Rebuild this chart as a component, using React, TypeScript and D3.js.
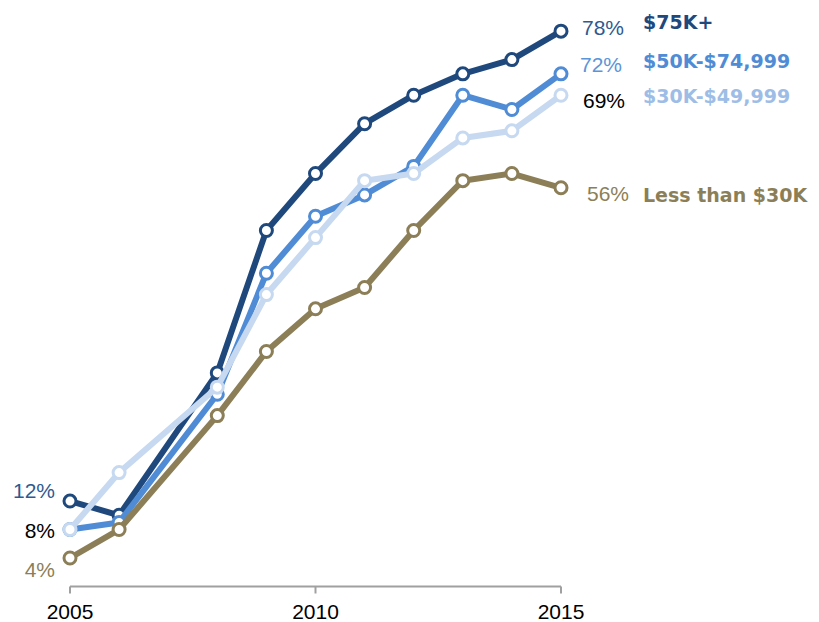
import * as d3 from 'd3';

// survey years (no 2007 point)
const years = [2005, 2006, 2008, 2009, 2010, 2011, 2012, 2013, 2014, 2015];

// share by household income, %
const over75k = [12, 10, 30, 50, 58, 65, 69, 72, 74, 78];
const from50to75k = [8, 9, 27, 44, 52, 55, 59, 69, 67, 72];
const from30to50k = [8, 16, 28, 41, 49, 57, 58, 63, 64, 69];
const under30k = [4, 8, 24, 33, 39, 42, 50, 57, 58, 56];

const seriesNames = ['$75K+', '$50K-$74,999', 'Less than $30K', '$30K-$49,999'];
const seriesValues = [over75k, from50to75k, under30k, from30to50k];
const seriesColors = ['#1f497d', '#4f8cd5', '#8c7f57', '#c6d9f1'];
const nameColors = ['#1f497d', '#4f8cd5', '#8c7f57', '#9dbde6'];
const endPctColors = ['#2e5a91', '#5b95d8', '#8c7f57', '#000000'];

const tickYears = [2005, 2010, 2015];

// label tweaks (baseline offsets from the point)
const endPctDy = [4, -2, 13, 13];
const endPctDx = [21, 19, 26, 22];
const endNameDy = [-2, -6, 14, 8];
// left side: 12%, 8%, 4%
const startLabels = [
    { text: '12%', series: 0, dy: -3, color: '#2e5a91' },
    { text: '8%', series: 1, dy: 8, color: '#000000' },
    { text: '4%', series: 2, dy: 19, color: '#8c7f57' },
];

export default function App() {
    const width = 819;
    const height = 622;

    const x = d3.scaleLinear().domain([2005, 2015]).range([70, 561]);
    const y = d3.scaleLinear().domain([0, 80]).range([586.5, 16.9]);

    const line = d3
        .line<number>()
        .x((_, i) => x(years[i]))
        .y((d) => y(d));

    const axisY = y(0);
    const last = years.length - 1;

    return (
        <svg
            width={width}
            height={height}
            viewBox={`0 0 ${width} ${height}`}
            style={{ position: 'absolute', left: 0, top: 0, background: '#fff' }}
        >
            {/* x axis */}
            <g stroke='#a0a0a0' strokeWidth={2}>
                <line x1={x(2005)} x2={x(2015)} y1={axisY} y2={axisY} />
                {tickYears.map((t) => (
                    <line key={t} x1={x(t)} x2={x(t)} y1={axisY} y2={axisY + 7} />
                ))}
            </g>
            {tickYears.map((t) => (
                <text
                    key={t}
                    x={x(t)}
                    y={619}
                    textAnchor='middle'
                    fontFamily='Liberation Sans, Arial, sans-serif'
                    fontSize={21}
                    fill='#000'
                >
                    {t}
                </text>
            ))}

            {seriesValues.map((vals, s) => (
                <g key={seriesNames[s]}>
                    <path d={line(vals) ?? ''} fill='none' stroke={seriesColors[s]} strokeWidth={6} strokeLinejoin='round' />
                    {vals.map((v, i) => (
                        <circle
                            key={years[i]}
                            cx={x(years[i])}
                            cy={y(v)}
                            r={6}
                            fill='#fff'
                            stroke={seriesColors[s]}
                            strokeWidth={3}
                        />
                    ))}
                </g>
            ))}

            {/* end labels */}
            {seriesValues.map((vals, s) => (
                <g key={'end' + s}>
                    <text
                        x={x(2015) + endPctDx[s]}
                        y={y(vals[last]) + endPctDy[s]}
                        fontFamily='Liberation Sans, Arial, sans-serif'
                        fontSize={21}
                        fill={endPctColors[s]}
                    >
                        {vals[last]}%
                    </text>
                    <text
                        x={643}
                        y={y(vals[last]) + endNameDy[s]}
                        fontFamily='DejaVu Sans, sans-serif'
                        fontWeight='bold'
                        fontSize={19}
                        fill={nameColors[s]}
                    >
                        {seriesNames[s]}
                    </text>
                </g>
            ))}

            {/* start labels */}
            {startLabels.map((l) => (
                <text
                    key={l.text}
                    x={x(2005) - 15}
                    y={y(seriesValues[l.series][0]) + l.dy}
                    textAnchor='end'
                    fontFamily='Liberation Sans, Arial, sans-serif'
                    fontSize={21}
                    fill={l.color}
                >
                    {l.text}
                </text>
            ))}
        </svg>
    );
}
